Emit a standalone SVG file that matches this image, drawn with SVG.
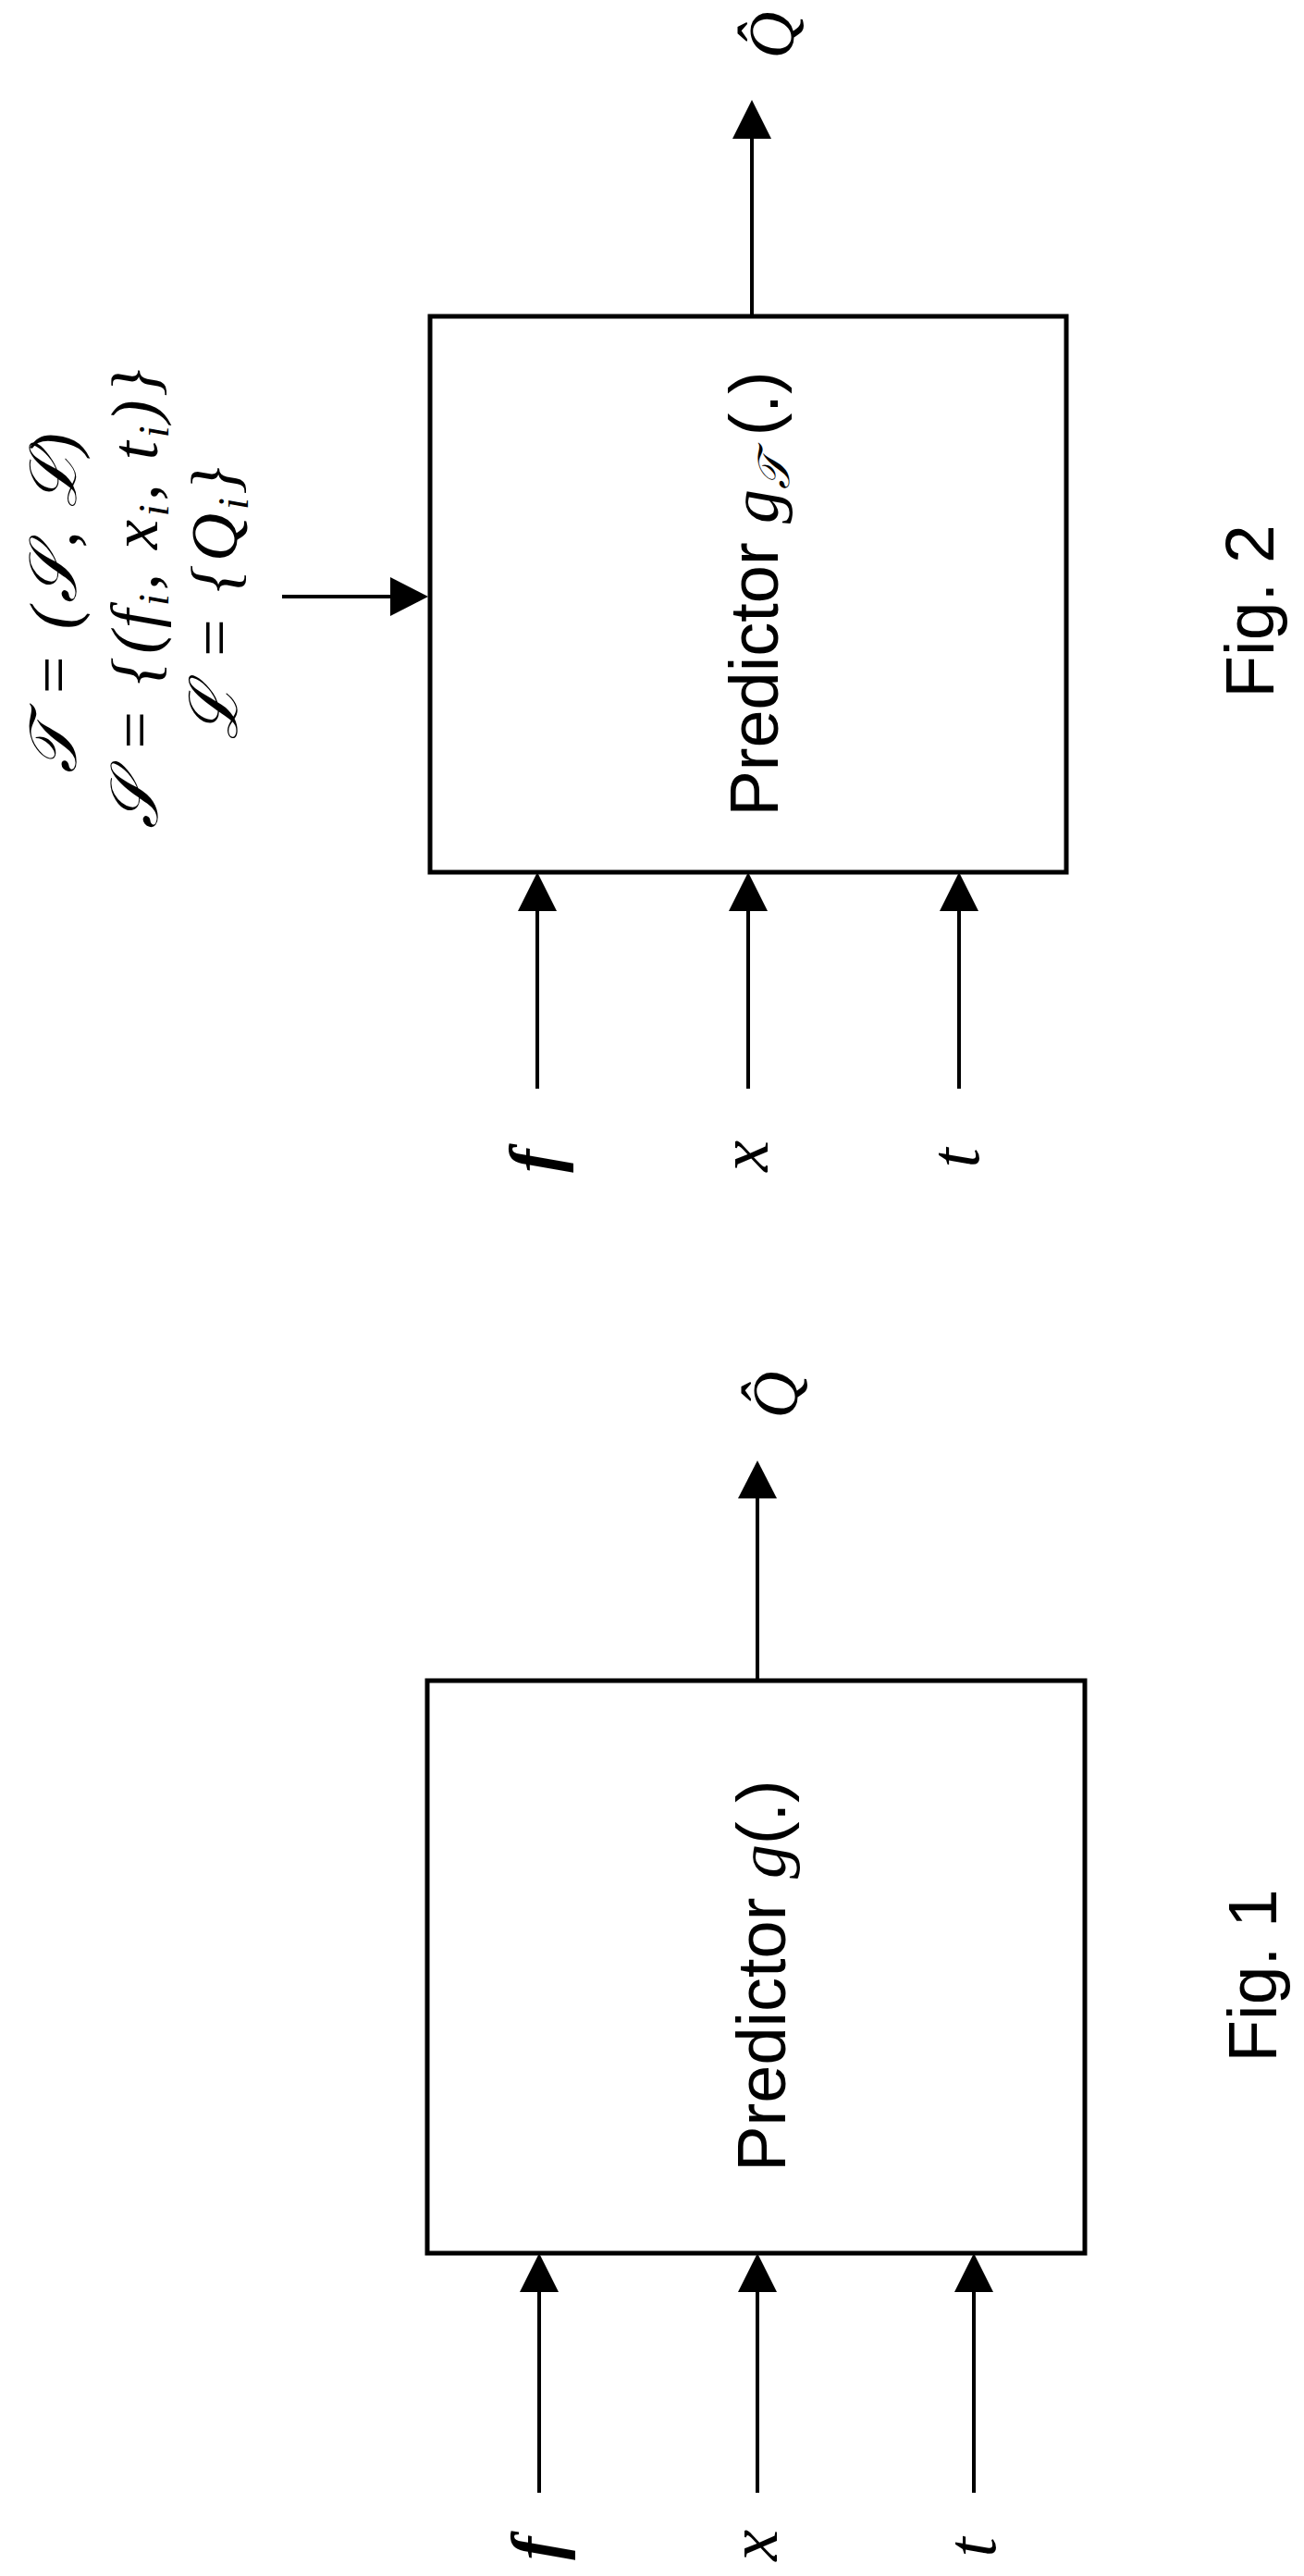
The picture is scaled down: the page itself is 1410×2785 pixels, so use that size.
<svg xmlns="http://www.w3.org/2000/svg" width="1410" height="2785" viewBox="0 0 1410 2785">
<style>
.box{fill:#fff;stroke:#000;stroke-width:5}
.ln{stroke:#000;stroke-width:4;fill:none}
.sans{font-family:"Liberation Sans",Arial,sans-serif;fill:#000}
.math{font-family:"Liberation Serif","DejaVu Serif",serif;font-style:italic;fill:#000}
</style>
<rect width="1410" height="2785" fill="#fff"/>
<!-- Fig 2 -->
<g id="predictor2">
<rect class="box" x="465" y="342" width="688" height="601"/>
<text class="sans" font-size="74" text-anchor="middle" transform="translate(841,642) rotate(-90)">Predictor <tspan class="math">g</tspan><tspan class="math" font-size="48" dy="12">𝒯</tspan><tspan dy="-12"> (.)</tspan></text>
</g>
<g id="training-set">
<text class="math" font-size="72" text-anchor="middle" letter-spacing="4" transform="translate(82,650) rotate(-90)">𝒯 = (𝒮, ℒ)</text>
<text class="math" font-size="72" text-anchor="middle" letter-spacing="4" transform="translate(170,646) rotate(-90)">𝒮 = {(f<tspan font-size="46" dy="12">i</tspan><tspan dy="-12">, x</tspan><tspan font-size="46" dy="12">i</tspan><tspan dy="-12">, t</tspan><tspan font-size="46" dy="12">i</tspan><tspan dy="-12">)}</tspan></text>
<text class="math" font-size="72" text-anchor="middle" letter-spacing="4" transform="translate(256,651) rotate(-90)">ℒ = {Q<tspan font-size="46" dy="12">i</tspan><tspan dy="-12">}</tspan></text>
</g>
<g id="labels2">
<text class="math" font-size="70" text-anchor="middle" transform="translate(858,38) rotate(-90)">Q̂</text>
<text class="math" font-size="76" font-weight="bold" text-anchor="middle" transform="translate(604,1255) rotate(-90)">f</text>
<text class="math" font-size="76" text-anchor="middle" transform="translate(830,1250) rotate(-90)">x</text>
<text class="math" font-size="76" text-anchor="middle" transform="translate(1058,1252) rotate(-90)">t</text>
<text class="sans" font-size="75" text-anchor="middle" transform="translate(1377,661) rotate(-90)">Fig. 2</text>
</g>
<!-- Fig 1 -->
<g id="predictor1">
<rect class="box" x="462" y="1817" width="711" height="619"/>
<text class="sans" font-size="74" text-anchor="middle" transform="translate(849,2136) rotate(-90)">Predictor <tspan class="math">g</tspan>(.)</text>
</g>
<g id="labels1">
<text class="math" font-size="70" text-anchor="middle" transform="translate(862,1508) rotate(-90)">Q̂</text>
<text class="math" font-size="76" font-weight="bold" text-anchor="middle" transform="translate(606,2755) rotate(-90)">f</text>
<text class="math" font-size="76" text-anchor="middle" transform="translate(840,2752) rotate(-90)">x</text>
<text class="math" font-size="76" text-anchor="middle" transform="translate(1076,2754) rotate(-90)">t</text>
<text class="sans" font-size="75" text-anchor="middle" transform="translate(1380,2136) rotate(-90)">Fig. 1</text>
</g>
<g id="connectors">
<line class="ln" x1="581" y1="1177" x2="581" y2="980"/>
<polygon points="581,943 560,985 602,985"/>
<line class="ln" x1="809" y1="1177" x2="809" y2="980"/>
<polygon points="809,943 788,985 830,985"/>
<line class="ln" x1="1037" y1="1177" x2="1037" y2="980"/>
<polygon points="1037,943 1016,985 1058,985"/>
<line class="ln" x1="813" y1="342" x2="813" y2="150"/>
<polygon points="813,108 792,150 834,150"/>
<line class="ln" x1="305" y1="645" x2="425" y2="645"/>
<polygon points="463,645 422,624 422,666"/>
<line class="ln" x1="583" y1="2695" x2="583" y2="2475"/>
<polygon points="583,2436 562,2478 604,2478"/>
<line class="ln" x1="819" y1="2695" x2="819" y2="2475"/>
<polygon points="819,2436 798,2478 840,2478"/>
<line class="ln" x1="1053" y1="2695" x2="1053" y2="2475"/>
<polygon points="1053,2436 1032,2478 1074,2478"/>
<line class="ln" x1="819" y1="1817" x2="819" y2="1615"/>
<polygon points="819,1579 798,1620 840,1620"/>
</g>
</svg>
